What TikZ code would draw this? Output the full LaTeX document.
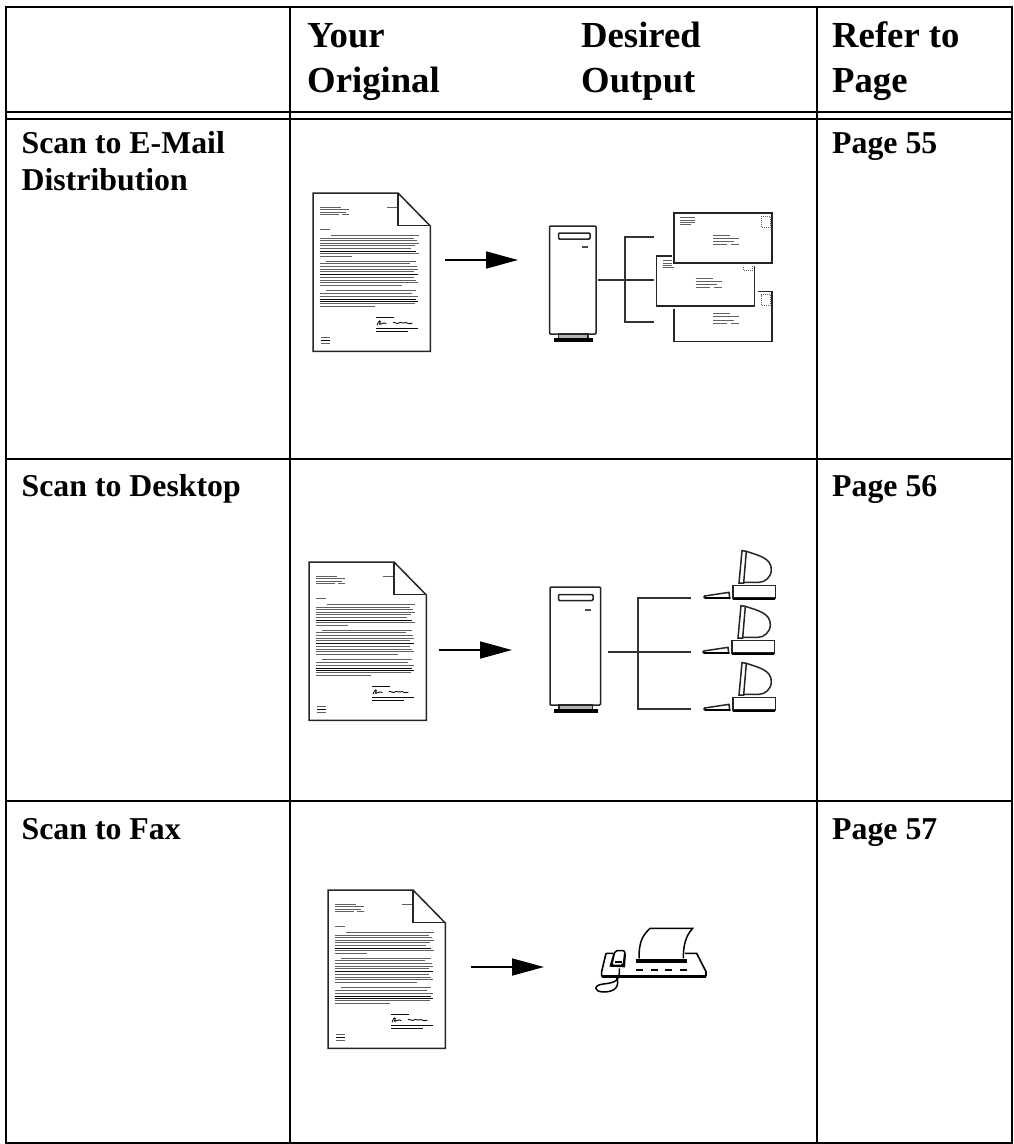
\documentclass[tikz,border=0pt]{standalone}
\usepackage{fontspec}
\setmainfont{Liberation Serif}
\usetikzlibrary{arrows.meta}
\tikzset{
  hdr/.style={anchor=base west,inner sep=0pt,font=\fontsize{36.7}{36.7}\selectfont\bfseries},
  rowt/.style={anchor=base west,inner sep=0pt,font=\fontsize{31.8}{31.8}\selectfont\bfseries},
  rule/.style={line width=2pt,black},
  bk/.style={line width=1.5pt,black!85},
  tl/.style={line width=.95pt,black!62},
  tb/.style={line width=.95pt,black!95},
  conn/.style={line width=1.4pt,black!80},
  flow/.style={line width=1.7pt,black,-{Triangle[length=32pt,width=17pt]}},
}
% document sheet drawn in zoom units (1/3 px)
\newcommand{\docsheet}[2]{%
 \begin{scope}[shift={(#1,#2)},x=.3333pt,y=-.3333pt]
  \draw[bk,line join=miter] (0,0) -- (255,0) -- (352,99) -- (352,475) -- (0,475) -- cycle;
  \draw[bk] (255,0) -- (255,98) -- (352,98);
  \foreach \a/\b/\c in {22/85/42,22/108/49,22/98/57,22/77/65,87/108/65,222/252/42,20/52/109,
    53/318/128,20/302/135,20/312/143,20/318/150,20/305/158,20/295/166,20/318/182,20/117/190,
    40/308/204,20/292/212,20/312/220,20/316/228,20/302/236,20/302/252,20/310/261,20/316/269,20/268/276,
    38/310/293,20/298/301,20/315/309,20/305/332,20/185/340,
    25/52/432,25/52/450}
    \draw[tl] (\a,\c) -- (\b,\c);
  \foreach \a/\b/\c in {20/310/174,20/316/244,20/308/318,20/315/325,190/242/372,190/316/406,190/285/414,25/52/442}
    \draw[tb] (\a,\c) -- (\b,\c);
  \draw[tb,line width=.9pt] (192,397) .. controls (197,380) and (206,380) .. (200,392) .. controls (196,400) and (214,384) .. (220,392)
     (240,388) .. controls (247,384) and (250,396) .. (258,390) .. controls (262,384) and (268,394) .. (275,390) .. controls (280,384) and (282,396) .. (298,391);
 \end{scope}}
% server tower
\newcommand{\tower}[9]{%
 \draw[bk,rounded corners=1pt,fill=white] (#1,#2) rectangle (#3,#4);
 \draw[bk,rounded corners=1pt] (#5,#7) rectangle (#6,{#7+6});
 \draw[line width=1.5pt,black!70] (#8,#9) -- ({#8+6},#9);
 \draw[bk,fill=black!30] ({#1+9},#4) rectangle ({#3-8},{#4+4.5});
 \draw[draw=none,fill=black] ({#1+4},{#4+4}) rectangle ({#3-3},{#4+7.5});
}
% envelope
\newcommand{\envel}[2]{%
 \begin{scope}[shift={(#1,#2)}]
  \fill[white] (-2.5,-2.5) rectangle (101,53);
  \draw[bk,fill=white] (0,0) rectangle (98,50);
  \draw[tl,densely dotted,fill=white] (87,3) rectangle (96,14);
  \draw[tl] (6,4.3) -- (21,4.3) (6,7) -- (21,7) (6,9.3) -- (21,9.3) (6,11.5) -- (17,11.5)
     (39,22) -- (56,22) (39,25.3) -- (65,25.3) (39,28.7) -- (60,28.7) (39,31.7) -- (53,31.7) (57,31.7) -- (65,31.7);
 \end{scope}}
% desktop computer: origin at lower-left of the base
\newcommand{\desktop}[2]{%
 \begin{scope}[shift={(#1,#2)},x=.3333pt,y=-.3333pt]
  \draw[bk,fill=white] (40,-143) .. controls (80,-130) and (115,-122) .. (115,-88) .. controls (115,-65) and (95,-50) .. (78,-50) -- (32,-50);
  \draw[bk,fill=white] (27,-145) -- (40,-143) -- (32,-48) -- (18,-48) -- cycle;
  \draw[bk,fill=white] (0,-40) rectangle (127,-3);
  \draw[line width=2pt,black] (0,-1) -- (127,-1);
  \draw[bk,fill=white] (-85,-9) -- (-12,-20) -- (-10,-3) -- (-80,-3) .. controls (-88,-3) and (-88,-8) .. (-85,-9) -- cycle;
  \draw[line width=2pt,black,line cap=round] (-84,-2) -- (-10,-2);
 \end{scope}}
\begin{document}
\begin{tikzpicture}[x=1pt,y=-1pt]
\useasboundingbox (0,0) rectangle (1013,1144);
\fill[white] (0,0) rectangle (1013,1144);
% table
\draw[rule] (5,6.5) -- (1013,6.5) (5,112) -- (1013,112) (5,119) -- (1013,119)
  (5,459) -- (1013,459) (5,801) -- (1013,801) (5,1143) -- (1013,1143);
\draw[rule] (6,5.5) -- (6,1144) (290,5.5) -- (290,1144) (817,5.5) -- (817,1144) (1012,5.5) -- (1012,1144);
% header
\node[hdr] (h1) at (307,47) {Your};
\node[hdr] (h2) at (307,92) {Original};
\node[hdr] (h3) at (581,47) {Desired};
\node[hdr] (h4) at (581,92) {Output};
\node[hdr] (h5) at (832,47) {Refer to};
\node[hdr] (h6) at (832,92) {Page};
% rows
\node[rowt] (r1a) at (21.5,153) {Scan to E-Mail};
\node[rowt] (r1b) at (21.5,190) {Distribution};
\node[rowt] (r2) at (21.5,496) {Scan to Desktop};
\node[rowt] (r3) at (21.5,839) {Scan to Fax};
\node[rowt] (p1) at (832,153) {Page 55};
\node[rowt] (p2) at (832,496) {Page 56};
\node[rowt] (p3) at (832,839) {Page 57};
% row 1
\docsheet{313}{193}
\coordinate (a1s) at (445,260); \coordinate (a1e) at (518,260);
\draw[flow] (a1s) -- (a1e);
\tower{549.5}{226}{596}{334}{558.5}{590}{233}{582}{247}
\coordinate (b1) at (598,280); \coordinate (t1a) at (625,237); \coordinate (t1b) at (625,322);
\coordinate (e1a) at (654,237); \coordinate (e1b) at (654,280); \coordinate (e1c) at (654,322);
\draw[conn] (b1) -- (e1b) (e1a) -- (t1a) -- (t1b) -- (e1c);
\envel{674}{291.5}
\envel{656.5}{256}
\envel{674}{213}
% row 2
\docsheet{309}{562}
\coordinate (a2s) at (439,650); \coordinate (a2e) at (512,650);
\draw[flow] (a2s) -- (a2e);
\tower{550}{587}{600.5}{705}{558.5}{593}{594.5}{585}{610}
\coordinate (b2) at (608,652); \coordinate (t2a) at (638,598); \coordinate (t2b) at (638,709);
\coordinate (e2a) at (691,598); \coordinate (e2b) at (691,652); \coordinate (e2c) at (691,709);
\draw[conn] (b2) -- (e2b) (e2a) -- (t2a) -- (t2b) -- (e2c);
\desktop{733}{599}
\desktop{732}{654}
\desktop{733}{711}
% row 3
\docsheet{328}{890}
\coordinate (a3s) at (471,967); \coordinate (a3e) at (544,967);
\draw[flow] (a3s) -- (a3e);
\begin{scope}[shift={(570,890)},x=.3333pt,y=-.3333pt]
  \draw[line width=1.6pt,black,line join=round] (108,190) -- (130,190) (345,190) -- (380,190) -- (408,245) -- (408,258) -- (95,258) -- (95,245) -- (108,190);
  \draw[line width=2.2pt,black] (95,261) -- (408,261);
  \draw[line width=1.5pt,black,fill=white] (207,205) .. controls (207,150) and (220,135) .. (240,115) -- (368,115) .. controls (345,140) and (340,170) .. (340,205);
  \fill[black] (198,208) rectangle (352,220);
  \foreach \x in {198,242,285,330} \fill[black] (\x,237) rectangle ({\x+21},243);
  \fill[black] (118,230) -- (130,190) -- (168,190) -- (165,232) -- cycle;
  \draw[line width=1.5pt,black,fill=white,rounded corners=2pt] (135,182) -- (165,182) -- (160,226) -- (125,226) -- cycle;
  \fill[black] (135,213) rectangle (155,218);
  \draw[line width=1.5pt,black] (148,235) .. controls (150,270) and (140,278) .. (100,282) .. controls (70,285) and (70,305) .. (100,306) .. controls (135,306) and (150,290) .. (140,262);
\end{scope}
\end{tikzpicture}
\end{document}
